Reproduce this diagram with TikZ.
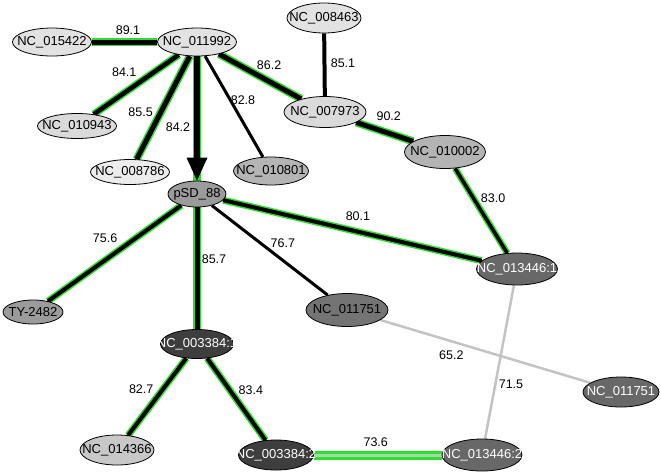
\documentclass[tikz,border=0pt]{standalone}
\usepackage{fontspec}
\setmainfont{Liberation Sans}
\usetikzlibrary{arrows.meta, shapes.geometric, backgrounds}

\definecolor{glowgreen}{RGB}{40,225,40}
\definecolor{paleA}{RGB}{226,226,226}
\definecolor{paleB}{RGB}{236,236,236}
\definecolor{paleC}{RGB}{218,218,218}
\definecolor{midA}{RGB}{180,180,180}
\definecolor{midB}{RGB}{200,200,200}
\definecolor{midC}{RGB}{155,155,155}
\definecolor{darkA}{RGB}{116,116,116}
\definecolor{darkB}{RGB}{104,104,104}
\definecolor{darkC}{RGB}{62,62,62}
\definecolor{weakgray}{RGB}{195,195,195}
\definecolor{weakmix}{RGB}{170,212,170}

\begin{document}
\begin{tikzpicture}[
                x=1pt, y=-1pt,
                gene/.style={ellipse, draw, line width=0.8pt, fill=#1, minimum width=79pt, minimum height=28pt, inner sep=0pt},
                tie/.style={draw=black, line width=#1},
                hit/.style={draw=black, line width=#1, preaction={draw=glowgreen, line width=#1+3pt, arrows=-}},
                weak/.style={draw=weakgray, line width=2.5pt},
                lbl/.style={font=\fontsize{12.5}{14}\selectfont, inner sep=0pt}
            ]
                \useasboundingbox (0,0) rectangle (661,475);
                \tikzset{every label/.style={font=\fontsize{13}{15}\selectfont, inner sep=0pt}}

                % nodes
                \node[gene=paleA, label=center:NC\_015422] (n015422) at (52,42) {};
                \node[gene=paleA, label=center:NC\_011992] (n011992) at (197,42) {};
                \node[gene=paleA, minimum width=74pt, minimum height=30pt, label=center:NC\_008463] (n008463) at (324,18) {};
                \node[gene=paleC, minimum height=25pt, label=center:NC\_010943] (n010943) at (77,126) {};
                \node[gene=paleB, minimum height=25pt, label=center:NC\_008786] (n008786) at (130,172) {};
                \node[gene=paleC, minimum width=82pt, minimum height=31pt, label=center:NC\_007973] (n007973) at (325,112) {};
                \node[gene=midA, minimum width=75pt, label=center:NC\_010801] (n010801) at (271,171) {};
                \node[gene=midA, minimum width=81pt, minimum height=33pt, label=center:NC\_010002] (n010002) at (445,152) {};
                \node[gene=midC, minimum width=58pt, minimum height=26pt, label=center:pSD\_88] (pSD) at (197,194) {};
                \node[gene=midC, minimum width=60pt, minimum height=24pt, label=center:TY-2482] (TY) at (33,312) {};
                \node[gene=darkA, minimum width=82pt, minimum height=33pt, label=center:NC\_011751] (n011751a) at (347,310) {};
                \node[gene=darkB, minimum width=81pt, minimum height=32pt, label={[text=white]center:{NC\_013446:1}}] (n013446a) at (517,269) {};
                \node[gene=darkB, minimum width=76pt, minimum height=30pt, label={[text=white]center:NC\_011751}] (n011751b) at (621,392) {};
                \node[gene=darkC, minimum width=73pt, minimum height=29pt, label={[text=white]center:{NC\_003384:1}}] (n003384a) at (197,344) {};
                \node[gene=midB, minimum width=74pt, minimum height=30pt, label=center:NC\_014366] (n014366) at (117,450) {};
                \node[gene=darkC, minimum width=75pt, minimum height=30pt, label={[text=white]center:{NC\_003384:2}}] (n003384b) at (276,455) {};
                \node[gene=darkB, minimum width=80pt, minimum height=32pt, label={[text=white]center:{NC\_013446:2}}] (n013446b) at (482,455) {};

                % edges
                \begin{scope}[on background layer]
                \draw[hit=5pt] (n015422) -- node[lbl, xshift=3.5, yshift=12] {89.1} (n011992);
                \draw[hit=4.5pt] (n011992) -- node[lbl, xshift=-12, yshift=12] {84.1} (n010943);
                \draw[hit=5pt] (n011992) -- node[lbl, xshift=-22.5, yshift=-4] {85.5} (n008786);
                \draw[hit=5.5pt, -{Triangle[width=21pt, length=23pt, line width=0pt]}] (n011992) -- node[lbl, xshift=-19, yshift=-9] {84.2} (pSD);
                \draw[tie=3pt] (n011992) -- node[lbl, xshift=9, yshift=6.5] {82.8} (n010801);
                \draw[hit=5pt] (n011992) -- node[lbl, xshift=9, yshift=11] {86.2} (n007973);
                \draw[tie=4pt] (n008463) -- node[lbl, xshift=18.5, yshift=2] {85.1} (n007973);
                \draw[hit=5pt] (n007973) -- node[lbl, xshift=4, yshift=16] {90.2} (n010002);
                \draw[hit=3.5pt] (n010002) -- node[lbl, xshift=12, yshift=12.5] {83.0} (n013446a);
                \draw[hit=4pt] (pSD) -- node[lbl, xshift=5.5, yshift=14.5] {80.1} (n013446a);
                \draw[tie=3pt] (pSD) -- node[lbl, xshift=13, yshift=7.5] {76.7} (n011751a);
                \draw[hit=4pt] (pSD) -- node[lbl, xshift=-9.5, yshift=15] {75.6} (TY);
                \draw[hit=5pt] (pSD) -- node[lbl, xshift=17, yshift=9] {85.7} (n003384a);
                \draw[hit=4pt] (n003384a) -- node[lbl, xshift=-16, yshift=8] {82.7} (n014366);
                \draw[hit=4pt] (n003384a) -- node[lbl, xshift=14.5, yshift=9.5] {83.4} (n003384b);
                \draw[weak] (n011751a) -- node[lbl, xshift=-34, yshift=-4] {65.2} (n011751b);
                \draw[weak] (n013446a) -- node[lbl, xshift=11.5, yshift=-22] {71.5} (n013446b);
                \draw[draw=weakmix, line width=3pt, preaction={draw=glowgreen, line width=9pt}] (n003384b) -- node[lbl, xshift=-2, yshift=13] {73.6} (n013446b);
                \end{scope}
            \end{tikzpicture}
\end{document}
